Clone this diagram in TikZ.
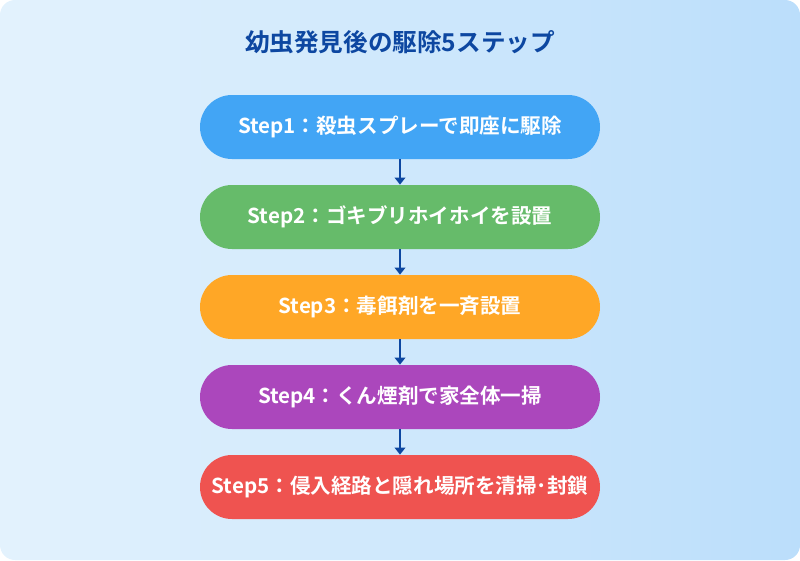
\documentclass[tikz,border=0pt]{standalone}
\usepackage{fontspec}
\setmainfont{Noto Sans CJK JP}[BoldFont={Noto Sans CJK JP Bold}]
\usetikzlibrary{positioning,arrows.meta}
\definecolor{bgA}{HTML}{E3F2FD}
\definecolor{bgB}{HTML}{BBDEFB}
\definecolor{titleblue}{HTML}{0D47A1}
\definecolor{sone}{HTML}{42A5F5}
\definecolor{stwo}{HTML}{66BB6A}
\definecolor{sthree}{HTML}{FFA726}
\definecolor{sfour}{HTML}{AB47BC}
\definecolor{sfive}{HTML}{EF5350}
\tikzset{
  stepbox/.style={rounded corners=0.64cm, minimum width=8cm, minimum height=1.28cm,
    text=white, font=\bfseries\fontsize{11.7}{14}\selectfont, inner sep=0pt},
  flow/.style={draw=titleblue, line width=1.2pt, -{Triangle[width=6pt,length=4pt]}}
}
\begin{document}
\begin{tikzpicture}[y=-1cm]
\shade[left color=bgA, right color=bgB, rounded corners=0.3cm] (0,0) rectangle (16,11.2);
\useasboundingbox (0,0) rectangle (16,11.2);
\node[text=titleblue, font=\bfseries\fontsize{14}{16}\selectfont] (title) at (8,0.84) {幼虫発見後の駆除5ステップ};
\node[stepbox, fill=sone] (s1) at (8,2.54) {Step1：殺虫スプレーで即座に駆除};
\node[stepbox, fill=stwo] (s2) at (8,4.34) {Step2：ゴキブリホイホイを設置};
\node[stepbox, fill=sthree] (s3) at (8,6.14) {Step3：毒餌剤を一斉設置};
\node[stepbox, fill=sfour] (s4) at (8,7.94) {Step4：くん煙剤で家全体一掃};
\node[stepbox, fill=sfive] (s5) at (8,9.74) {Step5：侵入経路と隠れ場所を清掃･封鎖};
\foreach \a/\b in {s1/s2,s2/s3,s3/s4,s4/s5}
  \draw[flow] (\a) -- (\b);
\end{tikzpicture}
\end{document}
